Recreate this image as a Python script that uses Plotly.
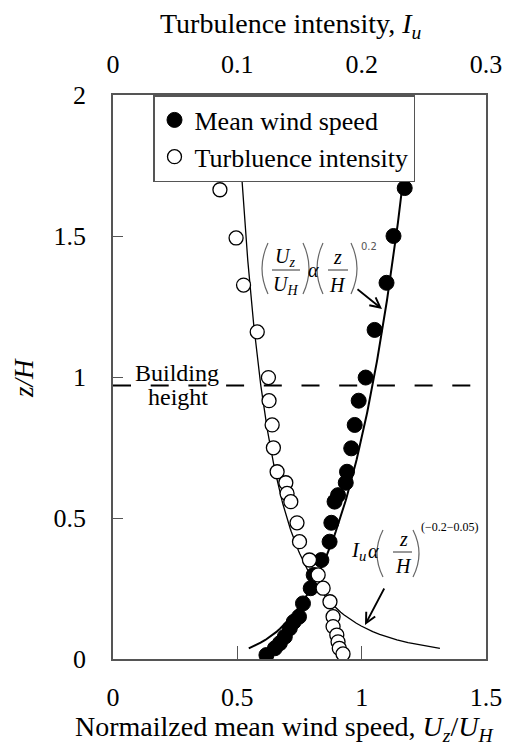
import numpy as np
import plotly.graph_objects as go

# ---------------- data ----------------
wind_speed = [1.173, 1.128, 1.100, 1.052, 1.016, 0.988, 0.972, 0.958, 0.941, 0.936,
              0.905, 0.891, 0.878, 0.871, 0.838, 0.807, 0.795, 0.764, 0.748, 0.727,
              0.711, 0.691, 0.671, 0.651, 0.617]
wind_z = [1.670, 1.500, 1.334, 1.167, 0.998, 0.916, 0.830, 0.747, 0.664, 0.625,
          0.581, 0.558, 0.483, 0.416, 0.351, 0.298, 0.251, 0.197, 0.150, 0.132,
          0.109, 0.079, 0.056, 0.038, 0.014]

turb_int = [0.086, 0.099, 0.105, 0.116, 0.125, 0.1255, 0.128, 0.129, 0.132, 0.139,
            0.140, 0.143, 0.148, 0.150, 0.158, 0.165, 0.169, 0.1745, 0.177, 0.177,
            0.180, 0.181, 0.182, 0.185]
turb_z = [1.664, 1.493, 1.326, 1.160, 0.998, 0.916, 0.830, 0.749, 0.664, 0.625,
          0.587, 0.558, 0.483, 0.416, 0.351, 0.298, 0.251, 0.203, 0.150, 0.115,
          0.085, 0.061, 0.038, 0.018]

# fitted power laws shown in the chart
wind_coef, wind_exp = 1.05, 0.2
turb_coef, turb_exp = 0.118, -0.245
building_height = 0.97

x_ticks = [0, 0.5, 1, 1.5]
x_ticktext = ["0", "0.5", "1", "1.5"]
x2_ticks = [0, 0.1, 0.2, 0.3]
x2_ticktext = ["0", "0.1", "0.2", "0.3"]
y_ticks = [0, 0.5, 1, 1.5, 2]
y_ticktext = ["0", "0.5", "1", "1.5", "2"]

# ---------------- layout helpers ----------------
# the page body has an 8px margin, so the figure is 16px smaller than the window
OFF = 8
W, H = 520, 742
ML, MR, MT, MB = 105, 42, 87, 91
PW, PH = W - ML - MR, H - MT - MB
XMAX, YMAX = 1.5, 2.0
PL, PB = OFF + ML, OFF + MT + PH   # plot left / bottom in window pixels


def X(px):
    return (px - PL) / PW * XMAX


def Y(py):
    return (PB - py) / PH * YMAX


def PX(px):
    return (px - PL) / PW


def PY(py):
    return (PB - py) / PH


SERIF = "Liberation Serif, Times New Roman, serif"
FRAME = "#555555"

z_curve = np.linspace(0.038, 2.0, 200)
wind_curve = wind_coef * z_curve ** wind_exp
turb_curve = turb_coef * z_curve ** turb_exp

fig = go.Figure()

fig.add_trace(go.Scatter(x=wind_curve, y=z_curve, mode="lines",
                         line=dict(color="black", width=2), showlegend=False,
                         hoverinfo="skip"))
fig.add_trace(go.Scatter(x=turb_curve, y=z_curve, mode="lines", xaxis="x2",
                         line=dict(color="black", width=1.3), showlegend=False,
                         hoverinfo="skip"))

fig.add_trace(go.Scatter(x=wind_speed, y=wind_z, mode="markers",
                         name="Mean wind speed", legendgroup="a",
                         marker=dict(symbol="circle", size=15, color="black",
                                     line=dict(color="black", width=1))))
fig.add_trace(go.Scatter(x=turb_int, y=turb_z, mode="markers", xaxis="x2",
                         name="Turbluence intensity", legendgroup="b",
                         marker=dict(symbol="circle", size=14, color="white",
                                     line=dict(color="black", width=1.3))))


def hline(x0, x1, y, color="#333", width=1):
    return dict(type="line", xref="x", yref="y", x0=X(x0), x1=X(x1), y0=Y(y), y1=Y(y),
                line=dict(color=color, width=width))


def paren(xe, xc, y0, y1, color="#666"):
    # xe: x of the end points, xc: bezier control x (bulge side)
    ym = (y0 + y1) / 2
    path = (f"M {X(xe)},{Y(y0)} Q {X(xc)},{Y(ym)} {X(xe)},{Y(y1)}")
    return dict(type="path", xref="x", yref="y", path=path,
                line=dict(color=color, width=1.2))


shapes = [
    dict(type="line", xref="x", yref="y", x0=0, x1=X(472),
         y0=building_height, y1=building_height,
         line=dict(color="black", width=2, dash="18px,19.7px")),
    # formula 1
    hline(272, 300, 270), hline(328, 348, 270),
    paren(268, 256, 243, 294), paren(303, 315, 243, 294),
    paren(323, 311, 243, 294), paren(351, 363, 243, 294),
    # formula 2
    hline(393, 412, 552),
    paren(383, 371, 530, 577), paren(413, 425, 530, 577),
]


def txt(px, py, text, size=20, family=SERIF, color="black", xanchor="center"):
    return dict(x=X(px), y=Y(py), xref="x", yref="y", text=text, showarrow=False,
                xanchor=xanchor, yanchor="middle",
                font=dict(family=family, size=size, color=color))


def ptxt(px, py, text, size, angle=0):
    return dict(x=PX(px), y=PY(py), xref="paper", yref="paper", text=text,
                showarrow=False, xanchor="center", yanchor="middle", textangle=angle,
                font=dict(family=SERIF, size=size, color="black"))


annotations = [
    ptxt(284, 728, "Normailzed mean wind speed, <i>U<sub>z</sub></i>/<i>U<sub>H</sub></i>", 28),
    ptxt(290, 26, "Turbulence intensity, <i>I<sub>u</sub></i>", 28),
    ptxt(24, 378, "<i>z/H</i>", 27, angle=-90),
    txt(177, 373, "Building", 24),
    txt(178, 397, "height", 24),
    # (Uz/UH) α (z/H)^0.2
    txt(285, 257, "<i>U<sub>z</sub></i>", 20),
    txt(285, 285, "<i>U<sub>H</sub></i>", 20),
    txt(313, 270, "<i>α</i>", 20),
    txt(337, 257, "<i>z</i>", 20),
    txt(337, 285, "<i>H</i>", 20),
    txt(369, 246, "0.2", 10, family="DejaVu Sans", color="#555"),
    # Iu α (z/H)^(-0.2-0.05)
    txt(368, 551, "<i>I<sub>u</sub></i>", 21, xanchor="right"),
    txt(373, 551, "<i>α</i>", 20),
    txt(403, 539, "<i>z</i>", 20),
    txt(403, 566, "<i>H</i>", 20),
    txt(450, 527, "(−0.2−0.05)", 12),
    # arrows
    dict(x=X(382), y=Y(309), xref="x", yref="y", ax=-26, ay=-21, showarrow=True,
         arrowhead=5, arrowsize=1.1, arrowwidth=1.8, arrowcolor="black", text=""),
    dict(x=X(365), y=Y(625), xref="x", yref="y", ax=20, ay=-38, showarrow=True,
         arrowhead=5, arrowsize=1.1, arrowwidth=1.8, arrowcolor="black", text=""),
]

tickfont = dict(family=SERIF, size=26, color="black")

fig.update_layout(
    width=W, height=H,
    margin=dict(l=ML, r=MR, t=MT, b=MB),
    paper_bgcolor="white", plot_bgcolor="white",
    showlegend=True,
    legend=dict(x=PX(153), y=1, xanchor="left", yanchor="top",
                bgcolor="white", bordercolor=FRAME, borderwidth=1.5,
                font=dict(family=SERIF, size=26, color="black"),
                entrywidth=230, entrywidthmode="pixels",
                tracegroupgap=0, itemclick=False),
    xaxis=dict(range=[0, XMAX], tickvals=x_ticks, ticktext=x_ticktext,
               ticks="inside", ticklen=13, tickcolor=FRAME, tickwidth=1.2,
               showline=True, linecolor=FRAME, linewidth=1.5, mirror=True,
               showgrid=False, zeroline=False, tickfont=tickfont,
               ticklabelstandoff=14),
    xaxis2=dict(range=[0, 0.3], overlaying="x", side="top",
                tickvals=x2_ticks, ticktext=x2_ticktext,
                ticks="inside", ticklen=13, tickcolor=FRAME, tickwidth=1.2,
                showline=False, showgrid=False, zeroline=False, tickfont=tickfont,
                ticklabelstandoff=16),
    yaxis=dict(range=[0, YMAX], tickvals=y_ticks, ticktext=y_ticktext,
               ticks="inside", ticklen=10, tickcolor=FRAME, tickwidth=1.2,
               showline=True, linecolor=FRAME, linewidth=1.5, mirror=True,
               showgrid=False, zeroline=False, tickfont=tickfont,
               ticklabelstandoff=20),
    shapes=shapes,
    annotations=annotations,
)

fig.write_html("out.html")
